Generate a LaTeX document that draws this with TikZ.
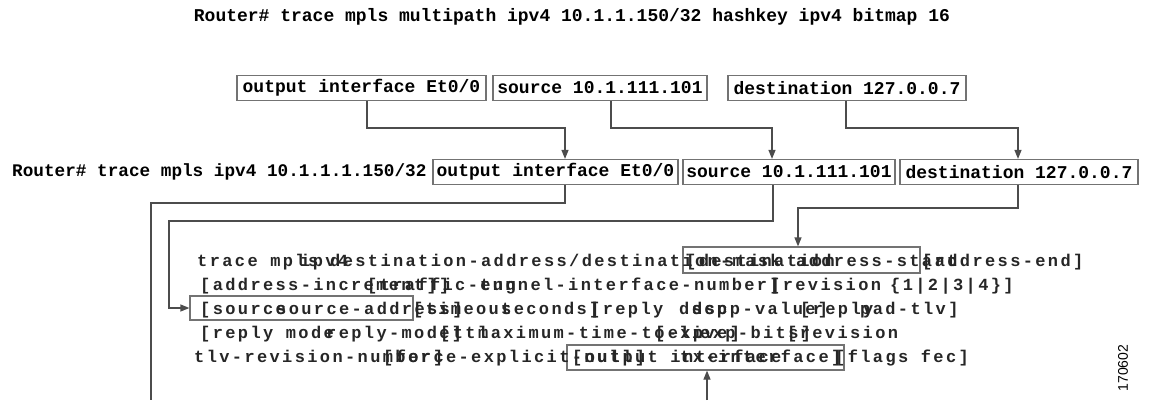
\documentclass[tikz,border=0pt]{standalone}
\usepackage{fontspec}
\newfontfamily\cmdfont{Liberation Mono}
\newfontfamily\synfont[LetterSpace=14]{Liberation Mono}
\newfontfamily\numfont{Liberation Sans}
\usetikzlibrary{arrows.meta}
\tikzset{
  cmd/.style={font=\cmdfont\bfseries\fontsize{18}{20}\selectfont, inner sep=0pt},
  box/.style={draw=black!55, line width=1.2pt, minimum height=25pt, inner sep=0pt,
              font=\cmdfont\bfseries\fontsize{18}{20}\selectfont},
  hbox/.style={draw=black!55, line width=1.2pt, minimum height=25pt, inner sep=0pt},
  conn/.style={draw=black!70, line width=1.2pt},
  arr/.style={conn, -{Triangle[length=9pt,width=7pt]}},
  syn/.style={font=\synfont\bfseries\fontsize{17}{19}\selectfont, text=black!85, anchor=base west, inner sep=0pt},
  kw/.style={syn},
}
\begin{document}
\begin{tikzpicture}[x=1pt,y=-1pt]
\useasboundingbox (0,0) rectangle (1149,400);
% title
\node[cmd] (title) at (572,17) {Router\# trace mpls multipath ipv4 10.1.1.150/32 hashkey ipv4 bitmap 16};
% top row
\node[box, minimum width=249pt] (A) at (361.5,88) {output interface Et0/0};
\node[box, minimum width=214pt] (B) at (600,88) {source 10.1.111.101};
\node[box, minimum width=238pt] (C) at (847,88) {destination 127.0.0.7};
% second row
\node[cmd, anchor=west, font=\cmdfont\bfseries\fontsize{17.7}{20}\selectfont] (R2) at (12,172) {Router\# trace mpls ipv4 10.1.1.1.150/32};
\node[box, minimum width=245pt] (D) at (555.5,172) {output interface Et0/0};
\node[box, minimum width=212pt] (E) at (789,172) {source 10.1.111.101};
\node[box, minimum width=238pt] (F) at (1019,172) {destination 127.0.0.7};
% highlight boxes
\node[hbox, minimum width=237pt, minimum height=26pt] (G) at (801.5,260) {};
\node[hbox, minimum width=223pt, minimum height=24pt] (H) at (301.5,308) {};
\node[hbox, minimum width=277pt, minimum height=25pt] (I) at (705.5,357.5) {};
% connector coordinates
\coordinate (a1) at (367,128); \coordinate (d1) at (565,128);
\coordinate (b1) at (611,128); \coordinate (e0) at (772,128);
\coordinate (c1) at (846,128); \coordinate (f0) at (1018,128);
\coordinate (o1) at (565,203); \coordinate (o2) at (151,203); \coordinate (o3) at (151,400);
\coordinate (e1) at (773,221); \coordinate (e2) at (169,221);
\coordinate (f1) at (1018,208); \coordinate (f2) at (798,208);
\coordinate (bt) at (707,400);
% connectors
\draw[arr] (a1 |- A.south) -- (a1) -- (d1) -- (d1 |- D.north);
\draw[arr] (b1 |- B.south) -- (b1) -- (e0) -- (e0 |- E.north);
\draw[arr] (c1 |- C.south) -- (c1) -- (f0) -- (f0 |- F.north);
\draw[conn] (o1 |- D.south) -- (o1) -- (o2) -- (o3);
\draw[arr] (e1 |- E.south) -- (e1) -- (e2) |- (H.west);
\draw[arr] (f1 |- F.south) -- (f1) -- (f2) -- (f2 |- G.north);
\draw[arr] (bt) -- (bt |- I.south);
% line 1
\node[kw]  (l1a) at (197,266) {trace mpls};
\node[kw]  (l1b) at (300,266) {ipv4};
\node[syn] (l1c) at (330,266) {destination-address/destination-mask};
\node[kw]  (l1d) at (686,266) {[destination};
\node[syn] (l1e) at (796,266) {address-start};
\node[syn] (l1f) at (922,266) {[address-end]};
% line 2
\node[syn] (l2a) at (200,290) {[address-increment]]};
\node[kw]  (l2b) at (367,290) {[traffic-eng};
\node[syn] (l2c) at (480,290) {tunnel-interface-number]};
\node[kw]  (l2d) at (770,290) {[revision};
\node[syn] (l2e) at (890,290) {\{1|2|3|4\}]};
% line 3
\node[kw]  (l3a) at (200,314) {[source};
\node[syn] (l3b) at (276,314) {source-address]};
\node[kw]  (l3c) at (413,314) {[timeout};
\node[syn] (l3d) at (501,314) {seconds]};
\node[kw]  (l3e) at (590,314) {[reply};
\node[kw]  (l3f) at (679,314) {dscp};
\node[syn] (l3g) at (692,314) {dscp-value]};
\node[kw]  (l3h) at (800,314) {[reply};
\node[kw]  (l3i) at (860,314) {pad-tlv]};
% line 4
\node[kw]  (l4a) at (200,338) {[reply mode};
\node[syn] (l4b) at (326,338) {reply-mode]};
\node[kw]  (l4c) at (440,338) {[ttl};
\node[syn] (l4d) at (478,338) {maximum-time-to-live]};
\node[kw]  (l4e) at (655,338) {[exp};
\node[syn] (l4f) at (700,338) {exp-bits]};
\node[kw]  (l4g) at (787,338) {[revision};
% line 5
\node[syn] (l5a) at (194,362) {tlv-revision-number]};
\node[kw]  (l5b) at (383,362) {[force-explicit-null]};
\node[kw]  (l5c) at (572,362) {[output interface};
\node[syn] (l5d) at (680,362) {tx-interface]};
\node[kw]  (l5e) at (835,362) {[flags fec]};
% figure number
\node[rotate=90, font=\numfont\fontsize{14}{14}\selectfont, inner sep=0pt] (num) at (1123,368) {170602};
\end{tikzpicture}
\end{document}
